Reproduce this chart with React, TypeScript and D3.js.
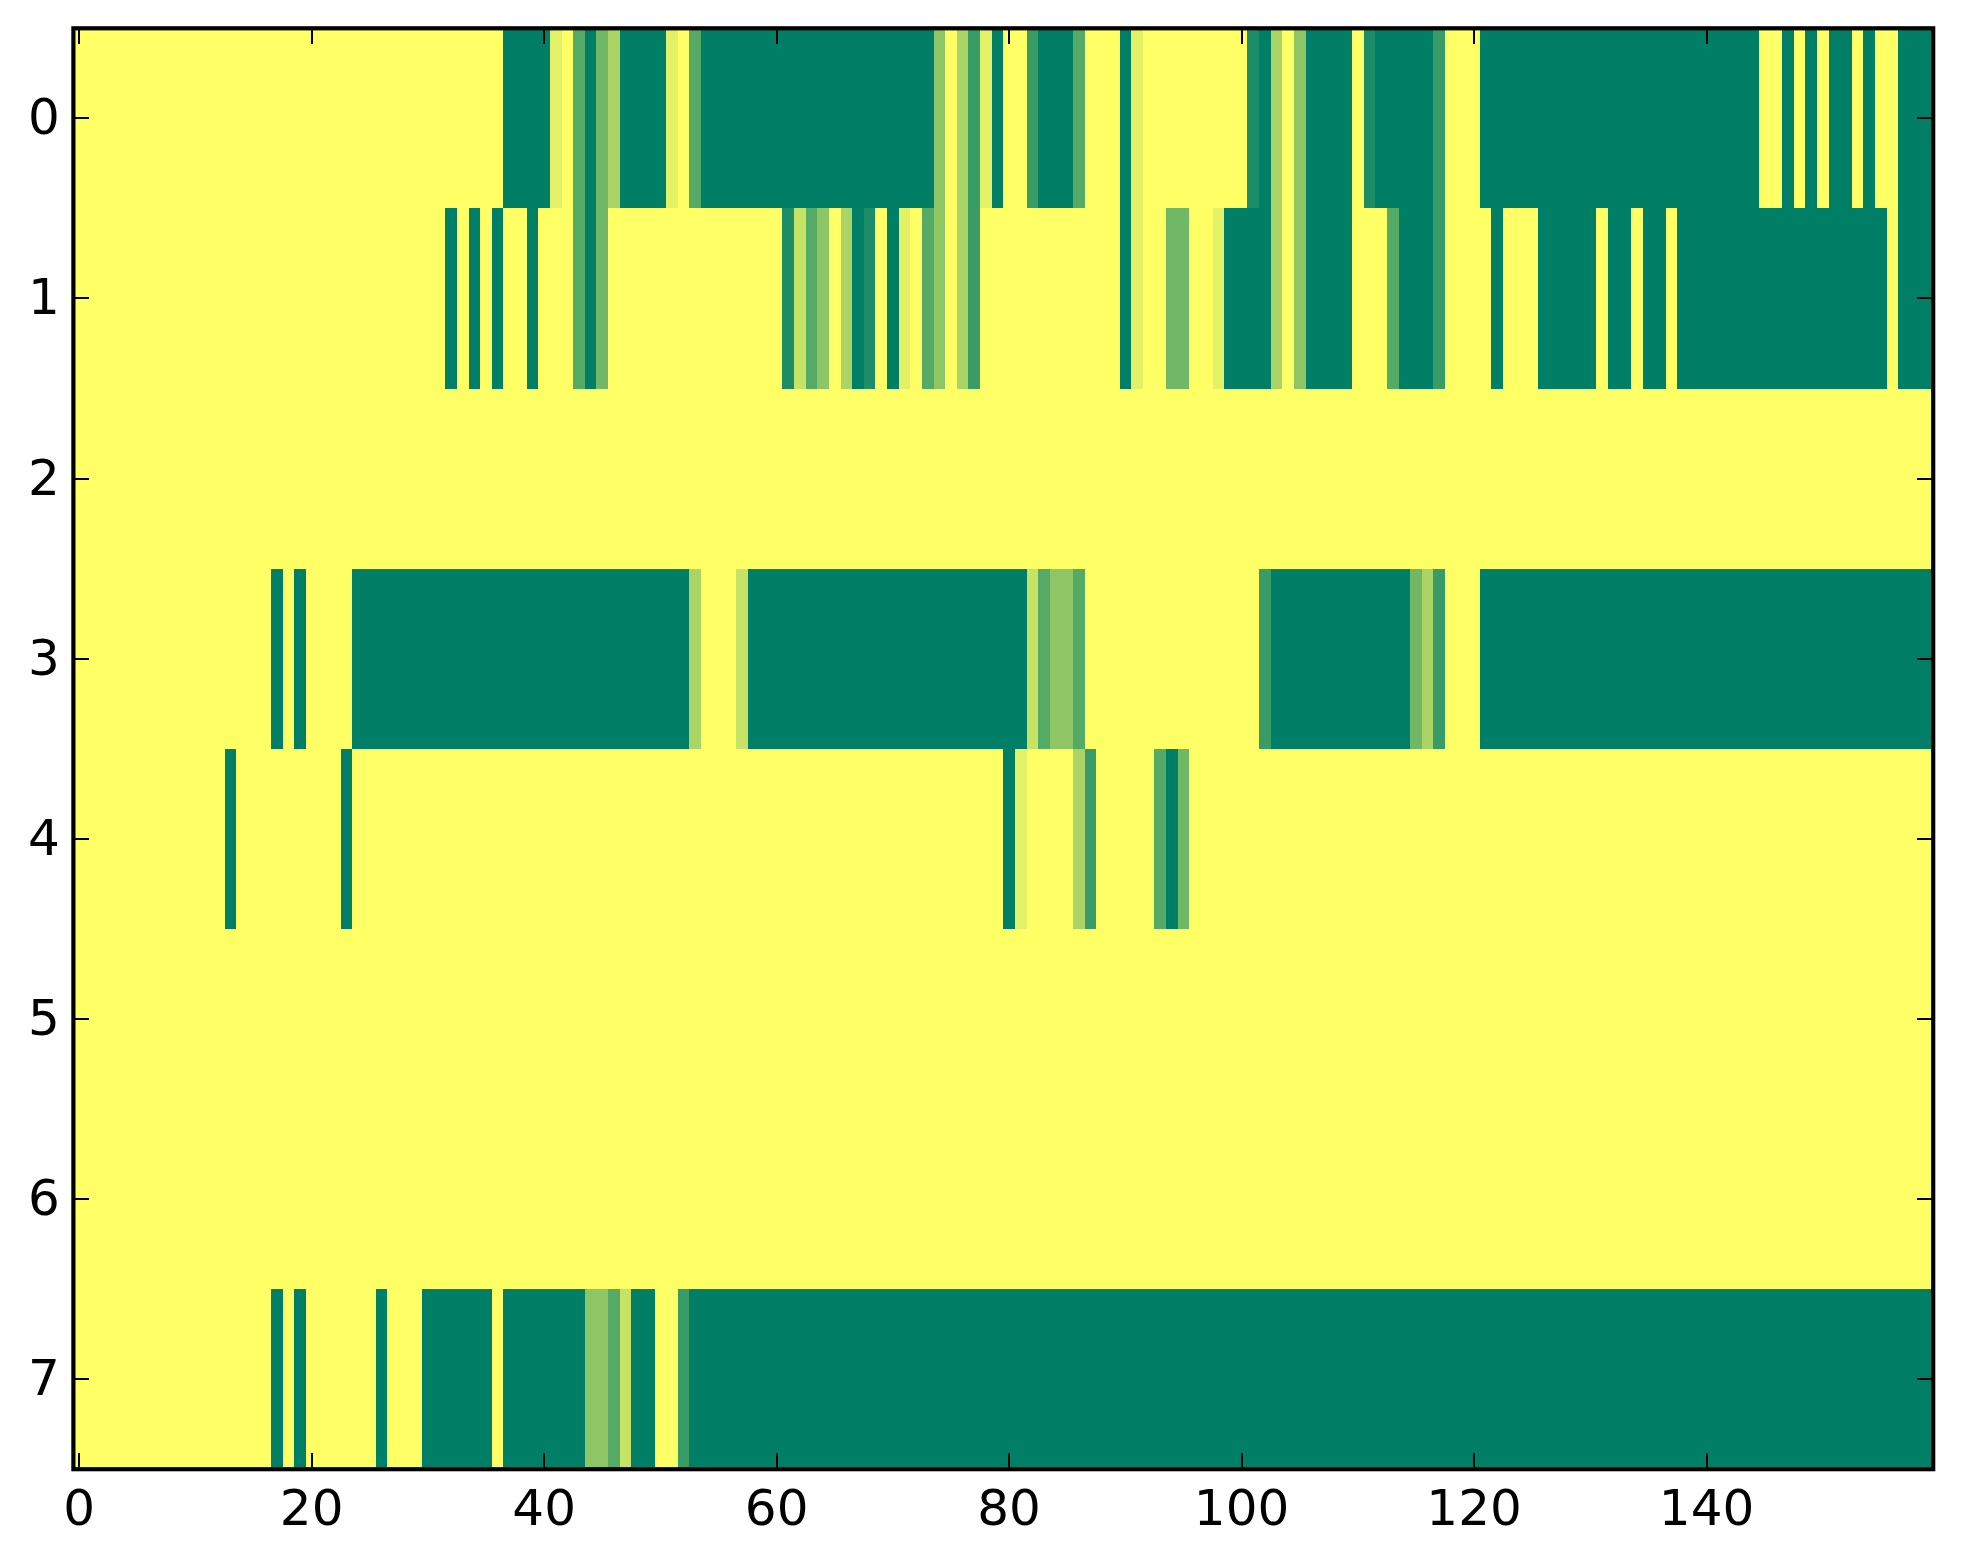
import React, { useEffect, useRef } from "react";
import * as d3 from "d3";

const WIDTH = 1963;
const HEIGHT = 1564;
const LEFT = 73.4;
const RIGHT = 1933.2;
const TOP = 28.3;
const BOTTOM = 1469.2;

const xTicks = [0, 20, 40, 60, 80, 100, 120, 140];
const yTicks = [0, 1, 2, 3, 4, 5, 6, 7];

// one list per row, ten cells per line. 0 is the darkest green, 9 is yellow
const row0 = [
  9, 9, 9, 9, 9, 9, 9, 9, 9, 9,
  9, 9, 9, 9, 9, 9, 9, 9, 9, 9,
  9, 9, 9, 9, 9, 9, 9, 9, 9, 9,
  9, 9, 9, 9, 9, 9, 9, 0, 0, 0,
  0, 8, 9, 3, 0, 4, 6, 0, 0, 0,
  0, 8, 9, 3, 0, 0, 0, 0, 0, 0,
  0, 0, 0, 0, 0, 0, 0, 0, 0, 0,
  0, 0, 0, 0, 5, 9, 6, 2, 8, 0,
  9, 9, 2, 0, 0, 0, 3, 9, 9, 9,
  0, 8, 9, 9, 9, 9, 9, 9, 9, 9,
  9, 1, 0, 6, 9, 5, 0, 0, 0, 0,
  9, 1, 0, 0, 0, 0, 0, 2, 9, 9,
  9, 0, 0, 0, 0, 0, 0, 0, 0, 0,
  0, 0, 0, 0, 0, 0, 0, 0, 0, 0,
  0, 0, 0, 0, 0, 9, 9, 0, 9, 0,
  9, 0, 0, 9, 0, 9, 9, 0, 0, 0,
];
const row1 = [
  9, 9, 9, 9, 9, 9, 9, 9, 9, 9,
  9, 9, 9, 9, 9, 9, 9, 9, 9, 9,
  9, 9, 9, 9, 9, 9, 9, 9, 9, 9,
  9, 9, 0, 9, 0, 9, 0, 9, 9, 0,
  9, 9, 9, 3, 0, 4, 9, 9, 9, 9,
  9, 9, 9, 9, 9, 9, 9, 9, 9, 9,
  9, 1, 7, 3, 5, 9, 6, 0, 1, 9,
  0, 8, 9, 3, 5, 9, 6, 2, 9, 9,
  9, 9, 9, 9, 9, 9, 9, 9, 9, 9,
  0, 8, 9, 9, 4, 4, 9, 9, 8, 0,
  0, 0, 0, 6, 9, 5, 0, 0, 0, 0,
  9, 9, 9, 3, 0, 0, 0, 2, 9, 9,
  9, 9, 0, 9, 9, 9, 0, 0, 0, 0,
  0, 9, 0, 0, 9, 0, 0, 9, 0, 0,
  0, 0, 0, 0, 0, 0, 0, 0, 0, 0,
  0, 0, 0, 0, 0, 0, 9, 0, 0, 0,
];
const row2 = [
  9, 9, 9, 9, 9, 9, 9, 9, 9, 9,
  9, 9, 9, 9, 9, 9, 9, 9, 9, 9,
  9, 9, 9, 9, 9, 9, 9, 9, 9, 9,
  9, 9, 9, 9, 9, 9, 9, 9, 9, 9,
  9, 9, 9, 9, 9, 9, 9, 9, 9, 9,
  9, 9, 9, 9, 9, 9, 9, 9, 9, 9,
  9, 9, 9, 9, 9, 9, 9, 9, 9, 9,
  9, 9, 9, 9, 9, 9, 9, 9, 9, 9,
  9, 9, 9, 9, 9, 9, 9, 9, 9, 9,
  9, 9, 9, 9, 9, 9, 9, 9, 9, 9,
  9, 9, 9, 9, 9, 9, 9, 9, 9, 9,
  9, 9, 9, 9, 9, 9, 9, 9, 9, 9,
  9, 9, 9, 9, 9, 9, 9, 9, 9, 9,
  9, 9, 9, 9, 9, 9, 9, 9, 9, 9,
  9, 9, 9, 9, 9, 9, 9, 9, 9, 9,
  9, 9, 9, 9, 9, 9, 9, 9, 9, 9,
];
const row3 = [
  9, 9, 9, 9, 9, 9, 9, 9, 9, 9,
  9, 9, 9, 9, 9, 9, 9, 0, 9, 0,
  9, 9, 9, 9, 0, 0, 0, 0, 0, 0,
  0, 0, 0, 0, 0, 0, 0, 0, 0, 0,
  0, 0, 0, 0, 0, 0, 0, 0, 0, 0,
  0, 0, 0, 6, 9, 9, 9, 7, 0, 0,
  0, 0, 0, 0, 0, 0, 0, 0, 0, 0,
  0, 0, 0, 0, 0, 0, 0, 0, 0, 0,
  0, 0, 7, 3, 5, 5, 3, 9, 9, 9,
  9, 9, 9, 9, 9, 9, 9, 9, 9, 9,
  9, 9, 2, 0, 0, 0, 0, 0, 0, 0,
  0, 0, 0, 0, 0, 4, 6, 2, 9, 9,
  9, 0, 0, 0, 0, 0, 0, 0, 0, 0,
  0, 0, 0, 0, 0, 0, 0, 0, 0, 0,
  0, 0, 0, 0, 0, 0, 0, 0, 0, 0,
  0, 0, 0, 0, 0, 0, 0, 0, 0, 0,
];
const row4 = [
  9, 9, 9, 9, 9, 9, 9, 9, 9, 9,
  9, 9, 9, 0, 9, 9, 9, 9, 9, 9,
  9, 9, 9, 0, 9, 9, 9, 9, 9, 9,
  9, 9, 9, 9, 9, 9, 9, 9, 9, 9,
  9, 9, 9, 9, 9, 9, 9, 9, 9, 9,
  9, 9, 9, 9, 9, 9, 9, 9, 9, 9,
  9, 9, 9, 9, 9, 9, 9, 9, 9, 9,
  9, 9, 9, 9, 9, 9, 9, 9, 9, 9,
  0, 8, 9, 9, 9, 9, 6, 2, 9, 9,
  9, 9, 9, 3, 0, 4, 9, 9, 9, 9,
  9, 9, 9, 9, 9, 9, 9, 9, 9, 9,
  9, 9, 9, 9, 9, 9, 9, 9, 9, 9,
  9, 9, 9, 9, 9, 9, 9, 9, 9, 9,
  9, 9, 9, 9, 9, 9, 9, 9, 9, 9,
  9, 9, 9, 9, 9, 9, 9, 9, 9, 9,
  9, 9, 9, 9, 9, 9, 9, 9, 9, 9,
];
const row5 = row2;
const row6 = row2;
const row7 = [
  9, 9, 9, 9, 9, 9, 9, 9, 9, 9,
  9, 9, 9, 9, 9, 9, 9, 0, 9, 0,
  9, 9, 9, 9, 9, 9, 0, 9, 9, 9,
  0, 0, 0, 0, 0, 0, 9, 0, 0, 0,
  0, 0, 0, 0, 5, 5, 3, 7, 0, 0,
  9, 9, 2, 0, 0, 0, 0, 0, 0, 0,
  0, 0, 0, 0, 0, 0, 0, 0, 0, 0,
  0, 0, 0, 0, 0, 0, 0, 0, 0, 0,
  0, 0, 0, 0, 0, 0, 0, 0, 0, 0,
  0, 0, 0, 0, 0, 0, 0, 0, 0, 0,
  0, 0, 0, 0, 0, 0, 0, 0, 0, 0,
  0, 0, 0, 0, 0, 0, 0, 0, 0, 0,
  0, 0, 0, 0, 0, 0, 0, 0, 0, 0,
  0, 0, 0, 0, 0, 0, 0, 0, 0, 0,
  0, 0, 0, 0, 0, 0, 0, 0, 0, 0,
  0, 0, 0, 0, 0, 0, 0, 0, 0, 0,
];
const rows = [row0, row1, row2, row3, row4, row5, row6, row7];

const App = () => {
  const svgRef = useRef<SVGSVGElement>(null);

  useEffect(() => {
    const svg = d3.select(svgRef.current);
    svg.selectAll("*").remove();

    const x = d3.scaleLinear().domain([-0.5, 159.5]).range([LEFT, RIGHT]);
    const y = d3.scaleLinear().domain([-0.5, 7.5]).range([TOP, BOTTOM]);
    const color = d3
      .scaleLinear<string>()
      .domain([0, 9])
      .range(["#007f66", "#ffff66"]);

    const cells = rows.flatMap((row, r) => row.map((v, c) => ({ r, c, v })));
    svg
      .append("g")
      .attr("shape-rendering", "crispEdges")
      .selectAll("rect")
      .data(cells)
      .join("rect")
      .attr("x", (d) => x(d.c - 0.5))
      .attr("y", (d) => y(d.r - 0.5))
      .attr("width", (d) => x(d.c + 0.5) - x(d.c - 0.5))
      .attr("height", (d) => y(d.r + 0.5) - y(d.r - 0.5))
      .attr("fill", (d) => color(d.v));

    // ticks point inwards on all four sides, labels only bottom and left
    const bottom = d3.axisBottom(x).tickValues(xTicks).tickSize(-16).tickPadding(20).offset(0);
    const top = d3.axisTop(x).tickValues(xTicks).tickSize(-16).tickFormat(() => "").offset(0);
    const left = d3.axisLeft(y).tickValues(yTicks).tickSize(-16).tickPadding(13.5).offset(0);
    const right = d3.axisRight(y).tickValues(yTicks).tickSize(-16).tickFormat(() => "").offset(0);

    const axes: [any, number, number][] = [
      [bottom, 0, BOTTOM],
      [top, 0, TOP],
      [left, LEFT, 0],
      [right, RIGHT, 0],
    ];
    axes.forEach(([axis, tx, ty]) => {
      const g = svg.append("g").attr("transform", `translate(${tx},${ty})`).call(axis);
      g.select(".domain").remove();
      g.selectAll("line").attr("stroke", "#000").attr("stroke-width", 2).attr("shape-rendering", "crispEdges");
      g.selectAll("text").attr("fill", "#000").attr("font-size", 50).attr("font-family", "DejaVu Sans");
    });

    svg
      .append("rect")
      .attr("x", LEFT)
      .attr("y", TOP)
      .attr("width", RIGHT - LEFT)
      .attr("height", BOTTOM - TOP)
      .attr("fill", "none")
      .attr("stroke", "#000")
      .attr("stroke-width", 4.2);
  }, []);

  return (
    <svg
      ref={svgRef}
      width={WIDTH}
      height={HEIGHT}
      style={{ position: "absolute", left: 0, top: 0, display: "block", background: "#fff" }}
    />
  );
};

export default App;
